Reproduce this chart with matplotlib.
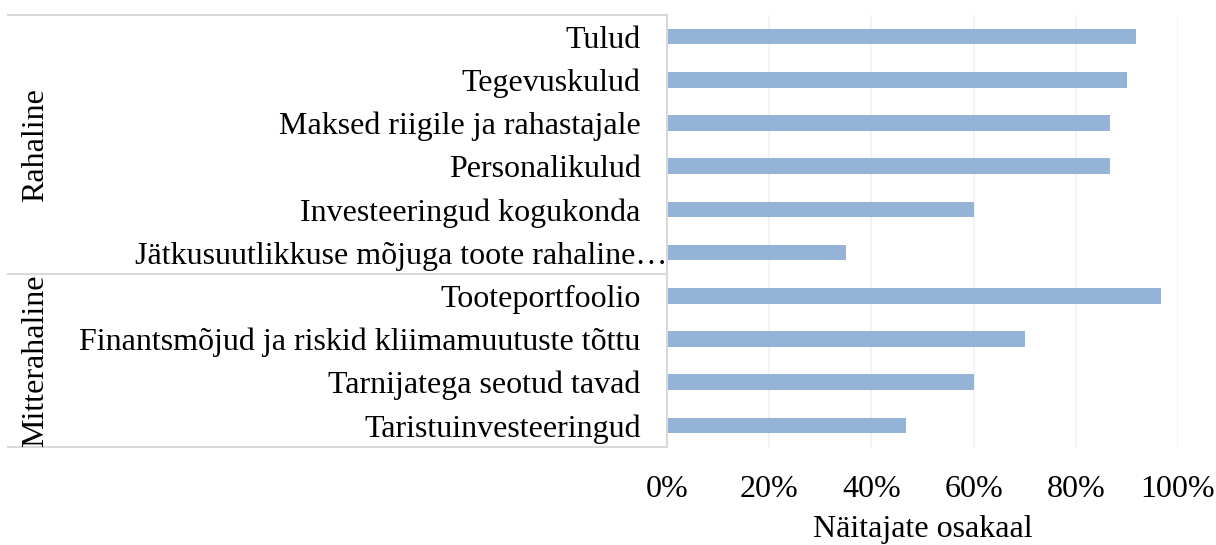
import matplotlib
matplotlib.use("Agg")
import matplotlib.pyplot as plt
import matplotlib.transforms as mtransforms
from matplotlib.ticker import FuncFormatter

groups = ["Rahaline", "Mitterahaline"]
group_sizes = [6, 4]
categories = [
    "Tulud",
    "Tegevuskulud",
    "Maksed riigile ja rahastajale",
    "Personalikulud",
    "Investeeringud kogukonda",
    "Jätkusuutlikkuse mõjuga toote rahaline…",
    "Tooteportfoolio",
    "Finantsmõjud ja riskid kliimamuutuste tõttu",
    "Tarnijatega seotud tavad",
    "Taristuinvesteeringud",
]
values = [0.917, 0.90, 0.867, 0.867, 0.60, 0.35, 0.967, 0.70, 0.60, 0.467]
x_ticks = [0, 0.2, 0.4, 0.6, 0.8, 1.0]
x_label = "Näitajate osakaal"

plt.rcParams['font.family'] = ['Liberation Serif', 'DejaVu Serif']
FS = 23

W, H = 1216, 545
fig = plt.figure(figsize=(W / 100, H / 100), dpi=100)
L, R, T, B = 667, 1178, 15, 447
ax = fig.add_axes([L / W, 1 - B / H, (R - L) / W, (B - T) / H])

ypos = list(range(len(categories)))
ax.barh(ypos, values, height=0.36, color="#95b3d7", zorder=2)
ax.set_ylim(len(categories) - 0.5, -0.5)
ax.set_xlim(0, 1.0)

ax.set_xticks(x_ticks)
ax.xaxis.set_major_formatter(FuncFormatter(lambda v, p: f"{v * 100:.0f}%"))
ax.grid(axis="x", color="#eef1f6", linewidth=1.2, zorder=0)
ax.set_yticks(ypos)
ax.set_yticklabels(categories)
ax.tick_params(axis="y", length=0, pad=19, labelsize=FS)
ax.tick_params(axis="x", length=0, pad=20, labelsize=FS)
ax.set_xlabel(x_label, fontsize=FS, labelpad=8)

# truncated label runs up to the axis line, as in the source
for lab in ax.get_yticklabels():
    if lab.get_text().endswith("…"):
        lab.set_transform(lab.get_transform() +
                          mtransforms.ScaledTranslation(0.27, 0, fig.dpi_scale_trans))

for s in ["top", "right", "bottom"]:
    ax.spines[s].set_visible(False)
ax.spines["left"].set_color("#d9d9d9")
ax.spines["left"].set_linewidth(1.5)

# group separators and labels
trans = mtransforms.blended_transform_factory(ax.transAxes, ax.transData)
x_left = (8 - L) / (R - L)
x_grp = (36 - L) / (R - L)
bounds = [-0.5]
for n in group_sizes:
    bounds.append(bounds[-1] + n)
for b in bounds:
    ax.plot([x_left, 0], [b, b], transform=trans, color="#d9d9d9",
            linewidth=1.5, clip_on=False, zorder=3)
for g, a, b in zip(groups, bounds[:-1], bounds[1:]):
    ax.text(x_grp, (a + b) / 2, g, transform=trans, rotation=90,
            ha="center", va="center", fontsize=FS)

fig.savefig("out.png", dpi=100)
